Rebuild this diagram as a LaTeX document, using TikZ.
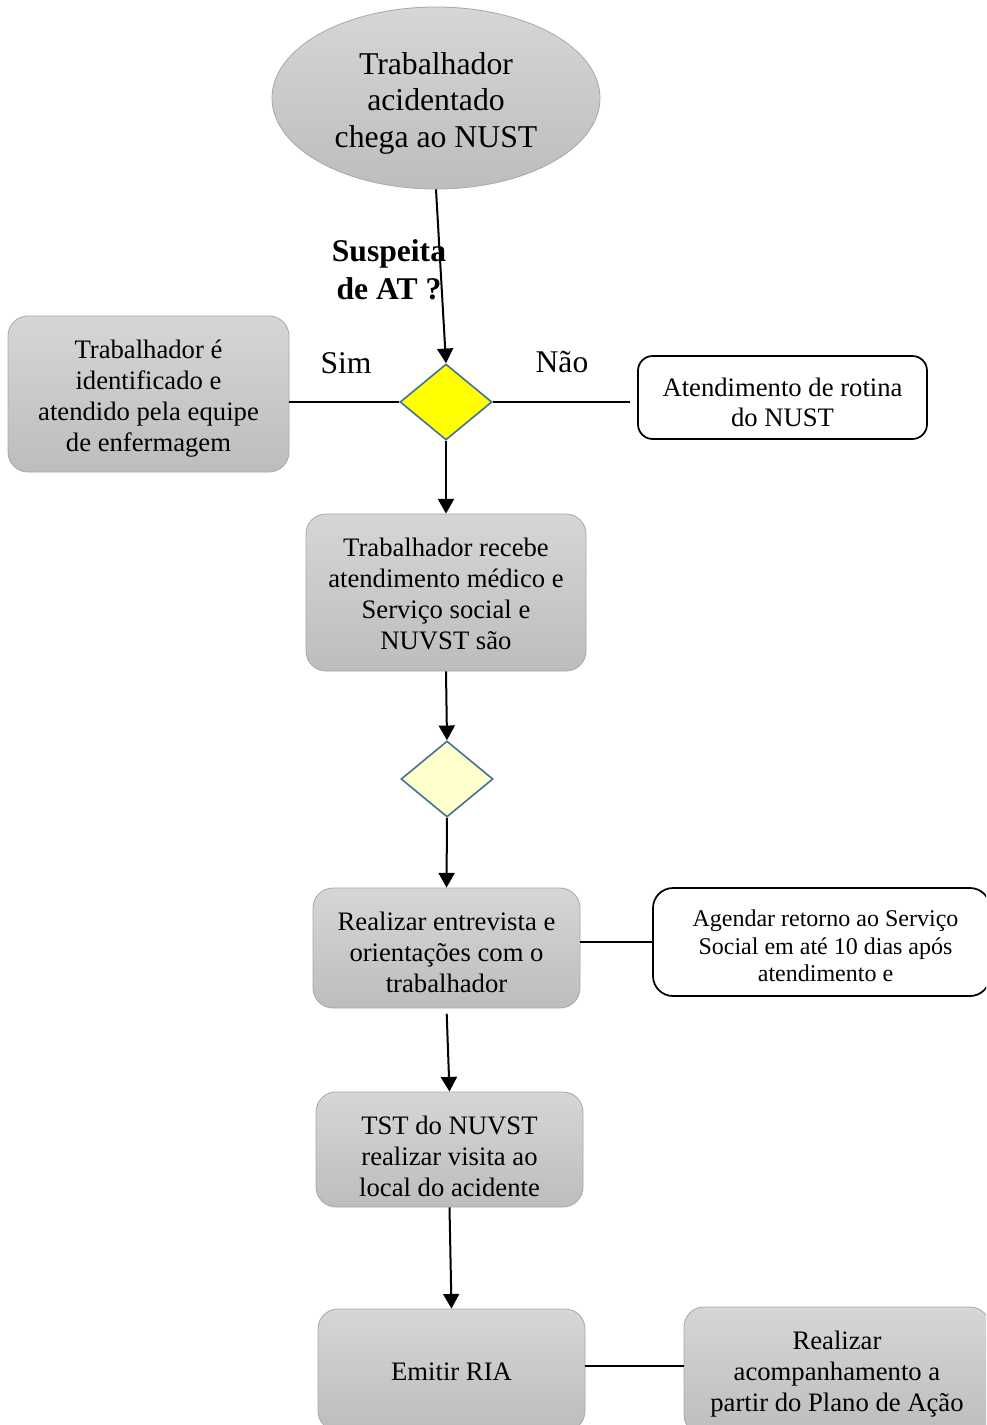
\documentclass[tikz,border=0pt]{standalone}
\usepackage{fontspec}
\setmainfont{Liberation Serif}
\usetikzlibrary{shapes.geometric,arrows.meta}
\definecolor{gtop}{HTML}{D6D6D6}
\definecolor{gbot}{HTML}{BDBDBD}
\definecolor{gborder}{HTML}{A8A8A8}
\definecolor{dborder}{HTML}{41719C}
\definecolor{dyellow}{HTML}{FFFF00}
\definecolor{dpale}{HTML}{FFFFCC}
\newcommand\lift[1]{\rule{0pt}{\dimexpr0.7em+#1\relax}}
\tikzset{
  grey/.style={rounded corners=15pt, draw=gborder, line width=0.6pt, top color=gtop, bottom color=gbot, align=center, inner sep=0pt, font=\fontsize{20}{23.25}\selectfont},
  whitebox/.style={rounded corners=11pt, draw=black, line width=1.3pt, fill=white, align=center, inner sep=0pt},
  decision/.style={diamond, draw=dborder, line width=1.2pt, minimum width=69pt, minimum height=57pt, inner sep=0pt},
  flow/.style={line width=1.5pt, -{Triangle[length=11pt,width=12pt]}},
  link/.style={line width=1.5pt},
  lbl/.style={align=center, font=\fontsize{23.7}{28}\selectfont},
}
\begin{document}
\begin{tikzpicture}[x=0.75pt,y=-0.75pt]
\useasboundingbox (0,0) rectangle (986,1425);
\clip (0,0) rectangle (986,1425);
\fill[white] (0,0) rectangle (986,1425);

\node[ellipse, draw=gborder, line width=0.6pt, top color=gtop, bottom color=gbot, minimum width=246pt, minimum height=136.5pt, inner sep=0pt, align=center, font=\fontsize{23.8}{27.5}\selectfont] (start) at (436,98) {\lift{7.5pt}Trabalhador\\acidentado\\chega ao NUST};

\node[lbl, font=\bfseries\fontsize{23.7}{28.5}\selectfont] (q) at (389,270) {Suspeita\\de AT ?};

\node[decision, fill=dyellow] (d1) at (446,402) {};
\node[lbl] (sim) at (346,363) {Sim};
\node[lbl] (nao) at (562,362) {Não};

\node[grey, minimum width=210.75pt, minimum height=117pt] (enf) at (148.5,394) {\lift{7.5pt}Trabalhador é\\identificado e\\atendido pela equipe\\de enfermagem};

\node[whitebox, minimum width=216.75pt, minimum height=62.25pt, font=\fontsize{20}{22.5}\selectfont] (rot) at (782.5,397.5) {\lift{6.75pt}Atendimento de rotina\\do NUST};

\node[grey, minimum width=210pt, minimum height=117.75pt] (med) at (446,592.5) {\lift{2.25pt}Trabalhador recebe\\atendimento médico e\\Serviço social e\\NUVST são};

\node[decision, fill=dpale] (d2) at (447,779) {};

\node[grey, minimum width=200.25pt, minimum height=90pt] (ent) at (446.5,948) {\lift{6pt}Realizar entrevista e\\orientações com o\\trabalhador};

\node[whitebox, rounded corners=15pt, minimum width=252.75pt, minimum height=81pt, font=\fontsize{18}{20.6}\selectfont] (ag) at (821.5,942) {\lift{6pt}\hspace*{6pt}Agendar retorno ao Serviço\\\hspace*{6pt}Social em até 10 dias após\\\hspace*{6pt}atendimento e};

\node[grey, minimum width=200.25pt, minimum height=86.25pt] (tst) at (449.5,1149.5) {\lift{10.5pt}TST do NUVST\\realizar visita ao\\local do acidente};

\node[grey, minimum width=200.25pt, minimum height=91.5pt] (ria) at (451.5,1370) {\lift{1.5pt}Emitir RIA};

\node[grey, minimum width=229.5pt, minimum height=96pt] (acp) at (837,1371) {\lift{4.5pt}Realizar\\acompanhamento a\\partir do Plano de Ação};

\draw[flow] (start.south) -- (d1.north);
\draw[link] (d1.west -| enf.east) -- (d1.west);
\draw[link, shorten >=5pt] (d1.east) -- (d1.east -| rot.west);
\draw[flow] (d1.south) -- (med.north);
\draw[flow] (med.south) -- (d2.north);
\draw[flow] (d2.south) -- (ent.north);
\draw[link] (ag.west -| ent.east) -- (ag.west);
\draw[flow, shorten <=4pt] (ent.south) -- (tst.north);
\draw[flow] (tst.south) -- (ria.north);
\draw[link] ([yshift=3pt]ria.east) -- ([yshift=3.75pt]acp.west);
\end{tikzpicture}
\end{document}
